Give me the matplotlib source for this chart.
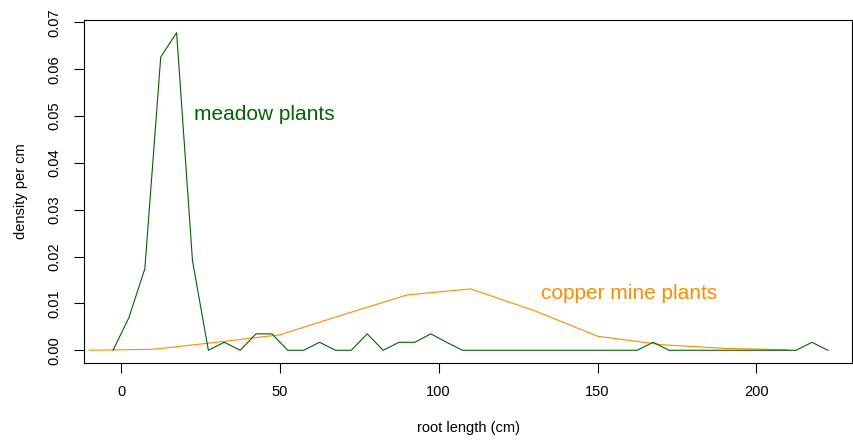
import matplotlib
matplotlib.use("Agg")
import matplotlib.pyplot as plt

plt.rcParams['font.family'] = ['Liberation Sans', 'DejaVu Sans']

# frequency polygons of root length, density per cm
meadow_x = [-2.5, 2.5, 7.5, 12.5, 17.5, 22.5, 27.5, 32.5, 37.5, 42.5, 47.5,
            52.5, 57.5, 62.5, 67.5, 72.5, 77.5, 82.5, 87.5, 92.5, 97.5, 102.5,
            107.5, 162.5, 167.5, 172.5, 212.5, 217.5, 222.5]
meadow_y = [0.0, 0.0070, 0.0174, 0.0626, 0.0678, 0.0191, 0.0, 0.0017, 0.0,
            0.0035, 0.0035, 0.0, 0.0, 0.0017, 0.0, 0.0, 0.0035, 0.0, 0.0017,
            0.0017, 0.0035, 0.0017, 0.0, 0.0, 0.0017, 0.0, 0.0, 0.0017, 0.0]

copper_x = [-10, 10, 30, 50, 70, 90, 110, 130, 150, 170, 190, 210]
copper_y = [0.0, 0.0002, 0.0017, 0.0033, 0.0076, 0.0118, 0.0131, 0.0085,
            0.0030, 0.0012, 0.0004, 0.0001]

x_ticks = [0, 50, 100, 150, 200]
y_ticks = [0.00, 0.01, 0.02, 0.03, 0.04, 0.05, 0.06, 0.07]

fig = plt.figure(figsize=(8.54, 4.45), dpi=100)
ax = fig.add_axes([0.0987, 0.185, 0.8993, 0.770])

ax.plot(copper_x, copper_y, color='darkorange', linewidth=0.8)
ax.plot(meadow_x, meadow_y, color='darkgreen', linewidth=0.8)

ax.text(23, 0.0504, "meadow plants", color='darkgreen', fontsize=15,
        ha='left', va='center')
ax.text(132.3, 0.0122, "copper mine plants", color='darkorange', fontsize=15,
        ha='left', va='center')

ax.set_xlim(-11.56, 230.2)
ax.set_ylim(-0.00265, 0.0705)
ax.set_xticks(x_ticks)
ax.set_xticklabels([str(t) for t in x_ticks])
ax.set_yticks(y_ticks)
ax.set_yticklabels([f"{t:.2f}" for t in y_ticks], rotation=90, va='center')
ax.tick_params(axis='both', length=7.2, width=0.8, labelsize=10.5, pad=9)

for s in ax.spines.values():
    s.set_linewidth(0.8)

ax.set_xlabel("root length (cm)", fontsize=10.5, labelpad=16)
ax.set_ylabel("density per cm", fontsize=10.5, labelpad=14)

fig.savefig("out.png", dpi=100)
